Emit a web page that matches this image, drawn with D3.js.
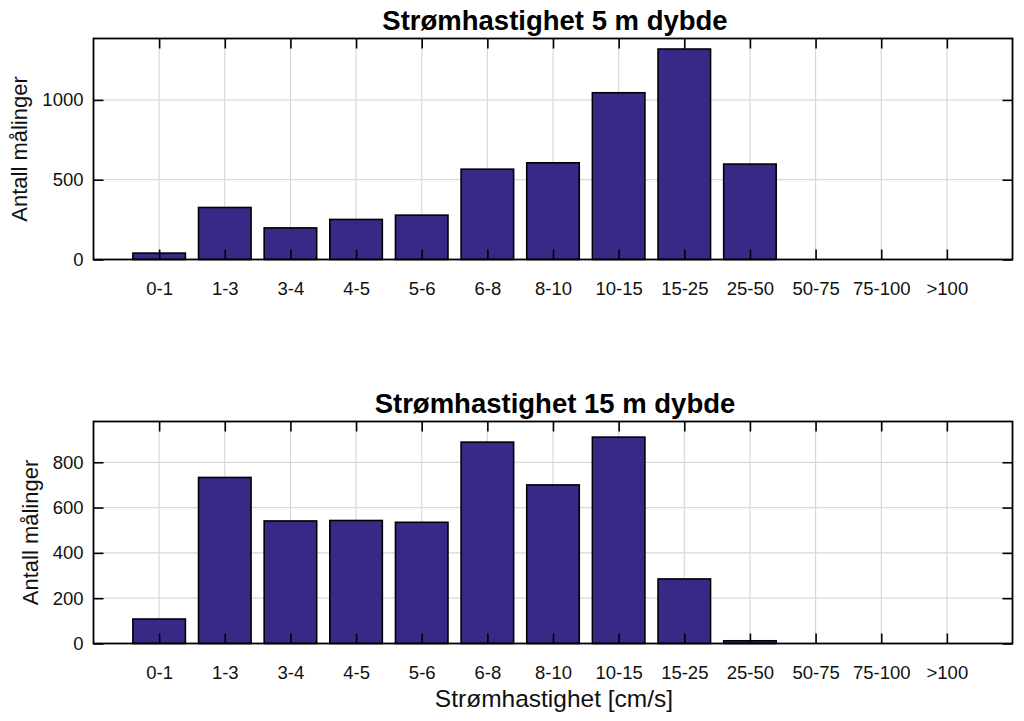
<!DOCTYPE html>
<html>
<head>
<meta charset="utf-8">
<script src="https://cdn.jsdelivr.net/npm/d3@7"></script>
<style>
  html, body { margin: 0; padding: 0; background: #ffffff; }
  svg { display: block; font-family: "Liberation Sans", Arial, Helvetica, sans-serif; }
</style>
</head>
<body>
<svg id="chart" width="1024" height="721"></svg>
<script>
// ---- data ----
const categories = ["0-1", "1-3", "3-4", "4-5", "5-6", "6-8", "8-10", "10-15", "15-25", "25-50", "50-75", "75-100", ">100"];
const values5m  = [40, 326, 198, 251, 278, 566, 606, 1045, 1319, 598, 0, 0, 0];
const values15m = [108, 733, 541, 543, 535, 889, 700, 911, 285, 12, 0, 0, 0];
const yTicks5m  = [0, 500, 1000];
const yTicks15m = [0, 200, 400, 600, 800];
const titles = ["Strømhastighet 5 m dybde", "Strømhastighet 15 m dybde"];
const yLabel = "Antall målinger";
const xLabel = "Strømhastighet [cm/s]";

// ---- layout ----
const FONT = "'Liberation Sans', Arial, Helvetica, sans-serif";
const svg = d3.select("#chart");
const left = 93.5, right = 1012.5;
const panels = [
  { top: 38.5, bottom: 259.5, ymax: 1385, values: values5m, ticks: yTicks5m, title: titles[0], ylabX: 27 },
  { top: 421.5, bottom: 643.5, ymax: 980, values: values15m, ticks: yTicks15m, title: titles[1], ylabX: 37.5 }
];
const barColor = "#372a86";
const gridColor = "#d8d8d8";
const tickLen = 10;

panels.forEach(p => {
  const g = svg.append("g");
  const x = d3.scaleLinear().domain([0, categories.length + 1]).range([left, right]);
  const y = d3.scaleLinear().domain([0, p.ymax]).range([p.bottom, p.top]);
  const barW = (x(1) - x(0)) * 0.8;

  // grid
  g.append("g").selectAll("line").data(categories).join("line")
    .attr("x1", (d, i) => x(i + 1)).attr("x2", (d, i) => x(i + 1))
    .attr("y1", p.top).attr("y2", p.bottom)
    .attr("stroke", gridColor).attr("stroke-width", 1.2);
  g.append("g").selectAll("line").data(p.ticks).join("line")
    .attr("x1", left).attr("x2", right)
    .attr("y1", d => y(d)).attr("y2", d => y(d))
    .attr("stroke", gridColor).attr("stroke-width", 1.2);

  // bars
  g.append("g").selectAll("rect").data(p.values).join("rect")
    .attr("x", (d, i) => x(i + 1) - barW / 2)
    .attr("width", barW)
    .attr("y", d => y(d))
    .attr("height", d => y(0) - y(d))
    .attr("fill", barColor)
    .attr("stroke", d => d > 0 ? "#000" : "none")
    .attr("stroke-width", 1.6);

  const xAxisB = d3.axisBottom(x).tickValues(d3.range(1, categories.length + 1))
    .tickFormat(d => categories[d - 1]).tickSizeInner(-tickLen).tickSizeOuter(0).tickPadding(tickLen + 12);
  const xAxisT = d3.axisTop(x).tickValues(d3.range(1, categories.length + 1))
    .tickFormat("").tickSizeInner(-tickLen).tickSizeOuter(0);
  const yAxisL = d3.axisLeft(y).tickValues(p.ticks).tickFormat(d3.format("d"))
    .tickSizeInner(-tickLen).tickSizeOuter(0).tickPadding(10);
  const yAxisR = d3.axisRight(y).tickValues(p.ticks).tickFormat("")
    .tickSizeInner(-tickLen).tickSizeOuter(0);

  const style = sel => {
    sel.attr("font-family", FONT).attr("font-size", 18.5);
    sel.select(".domain").remove();
    sel.selectAll(".tick line").attr("stroke", "#000").attr("stroke-width", 1.6);
    sel.selectAll(".tick text").attr("fill", "#111")
      .attr("font-family", FONT).attr("font-size", 18.5);
  };
  g.append("g").attr("transform", `translate(0,${p.bottom})`).call(xAxisB).call(style);
  g.append("g").attr("transform", `translate(0,${p.top})`).call(xAxisT).call(style);
  g.append("g").attr("transform", `translate(${left},0)`).call(yAxisL).call(style);
  g.append("g").attr("transform", `translate(${right},0)`).call(yAxisR).call(style);

  g.append("rect").attr("x", left).attr("y", p.top)
    .attr("width", right - left).attr("height", p.bottom - p.top)
    .attr("fill", "none").attr("stroke", "#000").attr("stroke-width", 1.8);

  // title
  g.append("text").attr("x", (left + right) / 2 + 2).attr("y", p.top - 8.5)
    .attr("text-anchor", "middle").attr("font-family", FONT)
    .attr("font-size", 27.5).attr("font-weight", "bold")
    .attr("fill", "#000").text(p.title);

  // y label
  g.append("text")
    .attr("transform", `translate(${p.ylabX},${(p.top + p.bottom) / 2}) rotate(-90)`)
    .attr("text-anchor", "middle").attr("font-family", FONT).attr("font-size", 22)
    .attr("fill", "#111").text(yLabel);
});

// x label
svg.append("text").attr("x", 554).attr("y", 706.5)
  .attr("text-anchor", "middle").attr("font-family", FONT).attr("font-size", 24.5)
  .attr("fill", "#111").text(xLabel);
</script>
</body>
</html>
